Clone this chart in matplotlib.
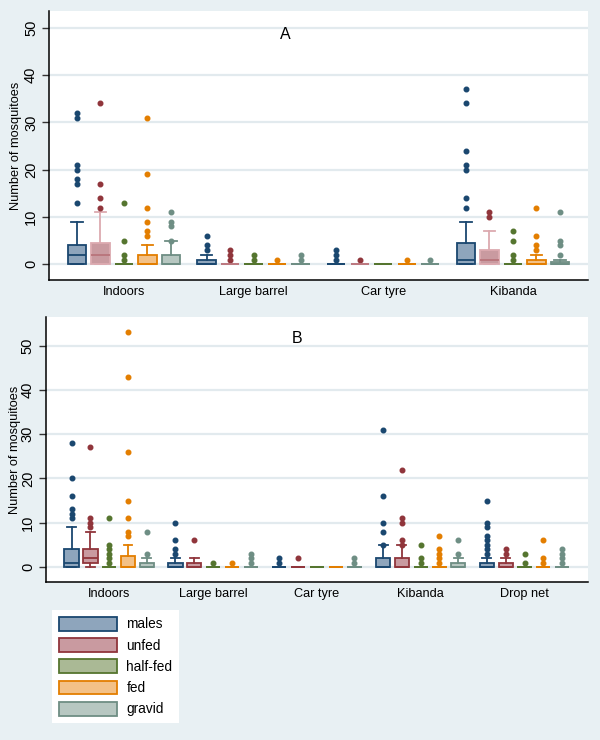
import matplotlib
matplotlib.use("Agg")
import matplotlib.pyplot as plt
from matplotlib.patches import Patch

plt.rcParams['font.family'] = ['Liberation Sans', 'DejaVu Sans']

series = ["males", "unfed", "half-fed", "fed", "gravid"]
edge_cols = ["#1a476f", "#90353b", "#55752f", "#e37e00", "#6e8e84"]
face_cols = ["#8ea5bc", "#c99aa0", "#aab995", "#f3c187", "#b7c7c1"]

# ---- panel A ----
a_groups = ["Indoors", "Large barrel", "Car tyre", "Kibanda"]
a_q1 = [[0, 0, 0, 0, 0], [0, 0, 0, 0, 0], [0, 0, 0, 0, 0], [0, 0, 0, 0, 0]]
a_med = [[2, 2, 0, 0, 0], [0, 0, 0, 0, 0], [0, 0, 0, 0, 0], [1, 1, 0, 0, 0]]
a_q3 = [[4, 4.5, 0, 2, 2], [1, 0, 0, 0, 0], [0, 0, 0, 0, 0], [4.5, 3, 0, 1, 0.5]]
a_lo = [[0, 0, 0, 0, 0], [0, 0, 0, 0, 0], [0, 0, 0, 0, 0], [0, 0, 0, 0, 0]]
a_hi = [[9, 11, 0, 4, 5], [2, 0, 0, 0, 0], [0, 0, 0, 0, 0], [9, 7, 0, 2, 1]]
a_fliers = [
    [[13, 17, 18, 20, 21, 31, 32], [12, 14, 17, 34], [1, 2, 5, 13],
     [6, 7, 9, 12, 19, 31], [5, 8, 9, 11]],
    [[3, 4, 6], [1, 2, 3], [1, 2], [1], [1, 2]],
    [[1, 2, 3], [1], [], [1], [1]],
    [[12, 14, 20, 21, 24, 34, 37], [10, 11], [1, 2, 5, 7], [3, 4, 6, 12],
     [2, 4, 5, 11]],
]

# ---- panel B ----
b_groups = ["Indoors", "Large barrel", "Car tyre", "Kibanda", "Drop net"]
b_q1 = [[0, 1, 0, 0, 0], [0, 0, 0, 0, 0], [0, 0, 0, 0, 0], [0, 0, 0, 0, 0],
        [0, 0, 0, 0, 0]]
b_med = [[1, 2, 0, 0, 0], [0, 0, 0, 0, 0], [0, 0, 0, 0, 0], [0, 0, 0, 0, 0],
         [0, 0, 0, 0, 0]]
b_q3 = [[4, 4, 0, 2.5, 1], [1, 1, 0, 0, 0], [0, 0, 0, 0, 0], [2, 2, 0, 0, 1],
        [1, 1, 0, 0, 0]]
b_lo = [[0, 0, 0, 0, 0], [0, 0, 0, 0, 0], [0, 0, 0, 0, 0], [0, 0, 0, 0, 0],
        [0, 0, 0, 0, 0]]
b_hi = [[9, 8, 0, 5, 2], [2, 2, 0, 0, 0], [0, 0, 0, 0, 0], [5, 5, 0, 0, 2],
        [2, 2, 0, 0, 0]]
b_fliers = [
    [[11, 12, 13, 16, 20, 28], [9, 10, 11, 27], [1, 2, 3, 4, 5, 11],
     [7, 8, 11, 15, 26, 43, 53], [3, 8]],
    [[3, 4, 6, 10], [6], [1], [1], [1, 2, 3]],
    [[1, 2], [2], [], [], [1, 2]],
    [[5, 8, 10, 16, 31], [5, 6, 10, 11, 22], [1, 2, 5], [1, 2, 3, 4, 7], [3, 6]],
    [[3, 4, 5, 6, 7, 9, 10, 15], [3, 4], [1, 3], [1, 2, 6], [1, 2, 3, 4]],
]

yticks = [0, 10, 20, 30, 40, 50]
bg = "#e8f0f3"
grid_col = "#e2eaee"
stride = 5.52


def draw_panel(ax, groups, q1, med, q3, lo, hi, fliers, width, margin,
               ylim, letter, letter_xy, unfed_edge=None):
    ax.set_facecolor("white")
    for g in range(len(groups)):
        for j in range(len(series)):
            st = [dict(q1=q1[g][j], med=med[g][j], q3=q3[g][j],
                       whislo=lo[g][j], whishi=hi[g][j], fliers=fliers[g][j])]
            ec = edge_cols[j]
            lc = ec
            mc = ec
            if j == 1 and unfed_edge is not None:
                lc = unfed_edge
                mc = "#b9747b"
            ax.bxp(st, positions=[g * stride + j], widths=width,
                   capwidths=width * 0.63, patch_artist=True,
                   boxprops=dict(facecolor=face_cols[j], edgecolor=lc, linewidth=1.3),
                   whiskerprops=dict(color=lc, linewidth=1.3),
                   capprops=dict(color=lc, linewidth=1.3),
                   medianprops=dict(color=mc, linewidth=1.3),
                   flierprops=dict(marker="o", markersize=3.3, markerfacecolor=ec,
                                   markeredgecolor=ec, linestyle="none"),
                   manage_ticks=False)
    n = len(groups)
    ax.set_xlim(-margin, (n - 1) * stride + 4 + margin)
    ax.set_ylim(*ylim)
    ax.set_yticks(yticks)
    ax.set_yticklabels([str(v) for v in yticks], rotation=90, va="center",
                       fontsize=10.5)
    ax.set_xticks([g * stride + 2 for g in range(n)])
    ax.set_xticklabels(groups, fontsize=9.2)
    ax.tick_params(axis="x", length=0, pad=4)
    ax.tick_params(axis="y", length=5, width=1, color="#333333", pad=3)
    ax.yaxis.grid(True, color=grid_col, linewidth=1.6)
    ax.set_axisbelow(True)
    for s in ["top", "right"]:
        ax.spines[s].set_visible(False)
    for s in ["left", "bottom"]:
        ax.spines[s].set_linewidth(1.1)
    ax.set_ylabel("Number of mosquitoes", fontsize=9.2)
    ax.text(letter_xy[0], letter_xy[1], letter, transform=ax.transAxes,
            ha="center", va="center", fontsize=11.5)


fig = plt.figure(figsize=(6, 7.4), dpi=100, facecolor=bg)

axA = fig.add_axes([0.082, 0.6216, 0.8975, 0.3635])
draw_panel(axA, a_groups, a_q1, a_med, a_q3, a_lo, a_hi, a_fliers,
           0.78, 1.18, (-3.32, 53.55), "A", (0.438, (48.5 + 3.32) / 56.87),
           unfed_edge="#dcaab0")
axA.yaxis.set_label_coords(-0.05, 0.5)

axB = fig.add_axes([0.0767, 0.2131, 0.9028, 0.3581])
draw_panel(axB, b_groups, b_q1, b_med, b_q3, b_lo, b_hi, b_fliers,
           0.755, 1.36, (-3.45, 56.4), "B", (0.463, (51.7 + 3.45) / 59.85))
axB.yaxis.set_label_coords(-0.047, 0.5)

handles = [Patch(facecolor=face_cols[j], edgecolor=edge_cols[j], linewidth=1.3,
                 label=series[j]) for j in range(len(series))]
leg = fig.legend(handles=handles, loc="upper left",
                 bbox_to_anchor=(52 / 600, 1 - 610 / 740), fontsize=9.8,
                 handlelength=4.3, handleheight=1.18, labelspacing=0.5,
                 handletextpad=0.66, borderpad=0.5, borderaxespad=0,
                 fancybox=False, framealpha=1, frameon=True)
leg.get_frame().set_facecolor("white")
leg.get_frame().set_edgecolor("white")
leg.get_frame().set_linewidth(0)

fig.savefig("out.png", dpi=100, facecolor=bg)
